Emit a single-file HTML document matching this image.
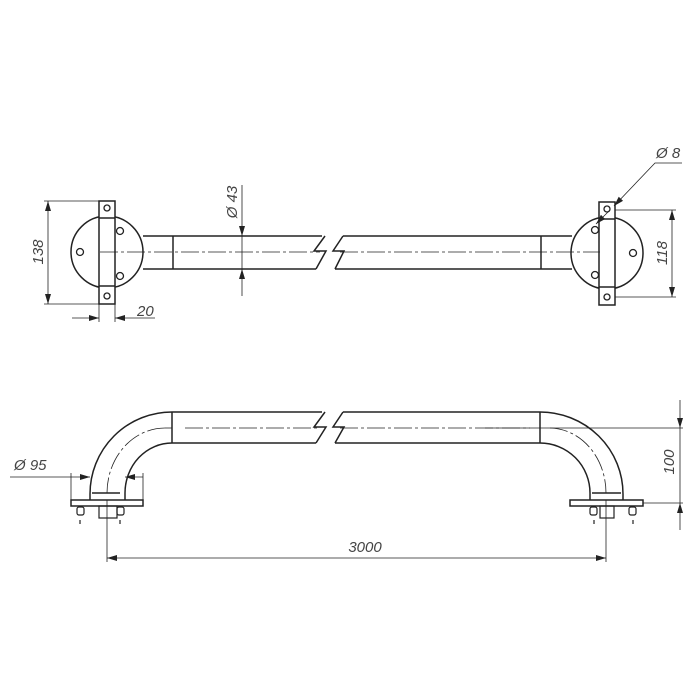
<!DOCTYPE html>
<html><head><meta charset="utf-8"><style>body{margin:0;background:#fff}svg{display:block}</style></head>
<body>
<svg width="700" height="700" viewBox="0 0 700 700" xmlns="http://www.w3.org/2000/svg" font-family="Liberation Sans, sans-serif" font-style="italic" fill="none" stroke="#222">
<defs>
<marker id="a" viewBox="0 0 10 6" refX="10" refY="3" markerWidth="10" markerHeight="6" orient="auto-start-reverse" markerUnits="userSpaceOnUse"><path d="M0,0L10,3L0,6z" fill="#222" stroke="none"/></marker>
</defs>
<!-- TOP VIEW -->
<g stroke-width="1.5">
<line x1="143" y1="236" x2="322" y2="236"/><line x1="143" y1="269" x2="316" y2="269"/>
<line x1="173" y1="236" x2="173" y2="269"/>
<polyline points="325,236 314,251 326,251 316,269"/>
<polyline points="343,236 333,251 344,251 335,269"/>
<line x1="343" y1="236" x2="572" y2="236"/><line x1="335" y1="269" x2="572" y2="269"/>
<line x1="541" y1="236" x2="541" y2="269"/>
<circle cx="107" cy="252" r="36" fill="#fff"/>
<rect x="99" y="201" width="16" height="103" fill="#fff"/>
<line x1="99" y1="218" x2="115" y2="218"/><line x1="99" y1="286" x2="115" y2="286"/>
<circle cx="607" cy="253" r="36" fill="#fff"/>
<rect x="599" y="202" width="16" height="103" fill="#fff"/>
<line x1="599" y1="219" x2="615" y2="219"/><line x1="599" y1="287" x2="615" y2="287"/>
</g>
<g stroke-width="1.3">
<circle cx="107" cy="208" r="3"/><circle cx="107" cy="296" r="3"/>
<circle cx="80" cy="252" r="3.5"/><circle cx="120" cy="231" r="3.5"/><circle cx="120" cy="276" r="3.5"/>
<circle cx="607" cy="209" r="3"/><circle cx="607" cy="297" r="3"/>
<circle cx="595" cy="230" r="3.5"/><circle cx="595" cy="275" r="3.5"/><circle cx="633" cy="253" r="3.5"/>
</g>
<g stroke-width="0.8" stroke-dasharray="18,3,3,3">
<line x1="100" y1="252" x2="320" y2="252"/><line x1="340" y1="252" x2="600" y2="252"/>
</g>
<!-- dims top -->
<g stroke-width="0.8">
<line x1="44" y1="201" x2="99" y2="201"/><line x1="44" y1="304" x2="99" y2="304"/>
<line x1="48" y1="201" x2="48" y2="304" marker-start="url(#a)" marker-end="url(#a)"/>
<line x1="242" y1="185" x2="242" y2="236" marker-end="url(#a)"/><line x1="242" y1="236" x2="242" y2="269"/>
<line x1="242" y1="296" x2="242" y2="269" marker-end="url(#a)"/>
<line x1="99" y1="304" x2="99" y2="322"/><line x1="115" y1="304" x2="115" y2="322"/>
<line x1="72" y1="318" x2="99" y2="318" marker-end="url(#a)"/><line x1="155" y1="318" x2="115" y2="318" marker-end="url(#a)"/>
<line x1="615" y1="210" x2="676" y2="210"/><line x1="615" y1="297" x2="676" y2="297"/>
<line x1="672" y1="210" x2="672" y2="297" marker-start="url(#a)" marker-end="url(#a)"/>
<polyline points="682,163 655,163 614,206" marker-end="url(#a)"/>
<line x1="608" y1="212" x2="596" y2="224" marker-end="url(#a)"/>
</g>
<g fill="#444" stroke="none" font-size="15">
<text transform="translate(43,252) rotate(-90)" text-anchor="middle">138</text>
<text transform="translate(237,202) rotate(-90)" text-anchor="middle">Ø 43</text>
<text x="137" y="316">20</text>
<text transform="translate(667,253) rotate(-90)" text-anchor="middle">118</text>
<text x="656" y="158">Ø 8</text>
</g>
<!-- BOTTOM VIEW -->
<g stroke-width="1.5">
<line x1="172" y1="412" x2="322" y2="412"/><line x1="172" y1="443" x2="316" y2="443"/>
<line x1="172" y1="412" x2="172" y2="443"/>
<polyline points="325,412 314,427 326,427 316,443"/>
<polyline points="343,412 333,427 344,427 335,443"/>
<line x1="343" y1="412" x2="540" y2="412"/><line x1="335" y1="443" x2="540" y2="443"/>
<line x1="540" y1="412" x2="540" y2="443"/>
<path d="M172,412 A82,82 0 0 0 90,494 L90,500"/>
<path d="M172,443 A47,50 0 0 0 125,493 L125,500"/>
<path d="M540,412 A83,82 0 0 1 623,494 L623,500"/>
<path d="M540,443 A50,50 0 0 1 590,493 L590,500"/>
<line x1="92" y1="493" x2="120" y2="493"/><line x1="592" y1="493" x2="621" y2="493"/>
<rect x="71" y="500" width="72" height="6" fill="#fff"/>
<rect x="570" y="500" width="73" height="6" fill="#fff"/>
</g>
<g stroke-width="1.2">
<rect x="99" y="506" width="18" height="12"/><rect x="600" y="506" width="14" height="12"/>
<rect x="77" y="507" width="7" height="8" rx="2"/><rect x="117" y="507" width="7" height="8" rx="2"/>
<rect x="590" y="507" width="7" height="8" rx="2"/><rect x="629" y="507" width="7" height="8" rx="2"/>
<line x1="80" y1="520" x2="80" y2="524"/><line x1="120" y1="520" x2="120" y2="524"/>
<line x1="594" y1="520" x2="594" y2="524"/><line x1="633" y1="520" x2="633" y2="524"/>
</g>
<g stroke-width="0.8" stroke-dasharray="18,3,3,3">
<line x1="185" y1="428" x2="320" y2="428"/><line x1="340" y1="428" x2="530" y2="428"/>
<path d="M165,428 A58,65 0 0 0 107,493"/><path d="M550,428 A57,65 0 0 1 606,493"/>
</g>
<g stroke-width="0.8">
<line x1="165" y1="428" x2="172" y2="428"/><line x1="485" y1="428" x2="683" y2="428"/>
<line x1="643" y1="503" x2="683" y2="503"/>
<line x1="680" y1="400" x2="680" y2="428" marker-end="url(#a)"/><line x1="680" y1="428" x2="680" y2="503"/>
<line x1="680" y1="530" x2="680" y2="503" marker-end="url(#a)"/>
<line x1="71" y1="473" x2="71" y2="500"/><line x1="143" y1="473" x2="143" y2="500"/>
<line x1="10" y1="477" x2="90" y2="477" marker-end="url(#a)"/><line x1="143" y1="477" x2="125" y2="477" marker-end="url(#a)"/>
<line x1="107" y1="500" x2="107" y2="562"/><line x1="606" y1="500" x2="606" y2="562"/>
<line x1="107" y1="558" x2="606" y2="558" marker-start="url(#a)" marker-end="url(#a)"/>
</g>
<g fill="#444" stroke="none" font-size="15">
<text x="14" y="470">Ø 95</text>
<text x="365" y="552" text-anchor="middle">3000</text>
<text transform="translate(674,462) rotate(-90)" text-anchor="middle">100</text>
</g>
</svg>
</body></html>
